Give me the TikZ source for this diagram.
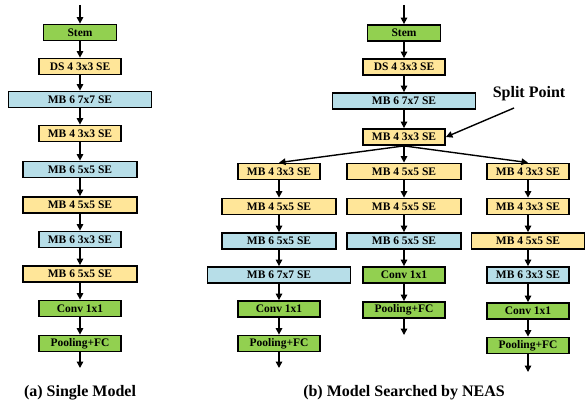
\documentclass[tikz,border=0pt]{standalone}
\usepackage{fontspec}
\setmainfont{Liberation Serif}
\usetikzlibrary{arrows.meta}

\definecolor{stemgreen}{HTML}{92D050}
\definecolor{mbyellow}{HTML}{FFE699}
\definecolor{mbblue}{HTML}{B7DEE8}

\begin{document}
\begin{tikzpicture}[x=1pt,y=-1pt,
  blk/.style={draw=black,line width=1.8pt,minimum height=16pt,inner sep=0pt,
    font=\fontsize{11.5}{12}\selectfont\bfseries},
  sm/.style={blk,minimum width=82pt},
  md/.style={blk,minimum width=114pt},
  lg/.style={blk,minimum width=143pt},
  grn/.style={fill=stemgreen},
  ylw/.style={fill=mbyellow},
  blu/.style={fill=mbblue},
  flow/.style={line width=1.4pt,-{Triangle[width=6.5pt,length=6.5pt]}},
  subcap/.style={font=\fontsize{16}{18}\selectfont\bfseries}]

\useasboundingbox (0,0) rectangle (585,404);

% (a) single model
\begin{scope}
\coordinate (a0) at (80,5);
\node[sm,grn,minimum width=73pt] (a1) at (80,32.5) {Stem};
\node[sm,ylw] (a2) at (80,66.5) {DS 4 3x3 SE};
\node[lg,blu] (a3) at (80,99.5) {MB 6 7x7 SE};
\node[sm,ylw] (a4) at (80,133.5) {MB 4 3x3 SE};
\node[md,blu] (a5) at (80,169.5) {MB 6 5x5 SE};
\node[md,ylw] (a6) at (80,205) {MB 4 5x5 SE};
\node[sm,blu] (a7) at (80,239.5) {MB 6 3x3 SE};
\node[md,ylw] (a8) at (80,274) {MB 6 5x5 SE};
\node[sm,grn] (a9) at (80,308.5) {Conv 1x1};
\node[sm,grn] (a10) at (80,343.5) {Pooling+FC};
\coordinate (a11) at (80,368);

\draw[flow] (a0) -- (a1);
\draw[flow] (a1) -- (a2);
\draw[flow] (a2) -- (a3);
\draw[flow] (a3) -- (a4);
\draw[flow] (a4) -- (a5);
\draw[flow] (a5) -- (a6);
\draw[flow] (a6) -- (a7);
\draw[flow] (a7) -- (a8);
\draw[flow] (a8) -- (a9);
\draw[flow] (a9) -- (a10);
\draw[flow] (a10) -- (a11);

\node[subcap] (capa) at (80,393) {(a) Single Model};
\end{scope}

% (b) shared trunk
\begin{scope}
\coordinate (b0) at (404,5);
\node[sm,grn,minimum width=73pt] (b1) at (404,33) {Stem};
\node[sm,ylw] (b2) at (404,67) {DS 4 3x3 SE};
\node[lg,blu] (b3) at (404,101) {MB 6 7x7 SE};
\node[sm,ylw] (b4) at (404,137) {MB 4 3x3 SE};

\draw[flow] (b0) -- (b1);
\draw[flow] (b1) -- (b2);
\draw[flow] (b2) -- (b3);
\draw[flow] (b3) -- (b4);

\node[font=\fontsize{16}{18}\selectfont\bfseries] (split) at (529,94) {Split Point};
\coordinate (splittail) at (514,108);
\draw[flow] (splittail) -- (b4.east);
\end{scope}

% left branch
\node[sm,ylw] (l1) at (279,171.5) {MB 4 3x3 SE};
\node[md,ylw] (l2) at (279,206.5) {MB 4 5x5 SE};
\node[md,blu] (l3) at (279,241) {MB 6 5x5 SE};
\node[lg,blu] (l4) at (279,275) {MB 6 7x7 SE};
\node[sm,grn] (l5) at (279,309) {Conv 1x1};
\node[sm,grn] (l6) at (279,343.5) {Pooling+FC};
\coordinate (l7) at (279,368);

% middle branch
\node[md,ylw] (m1) at (404,171.5) {MB 4 5x5 SE};
\node[md,ylw] (m2) at (404,206.5) {MB 4 5x5 SE};
\node[md,blu] (m3) at (404,241) {MB 6 5x5 SE};
\node[sm,grn] (m4) at (404,275) {Conv 1x1};
\node[sm,grn] (m5) at (404,310) {Pooling+FC};
\coordinate (m6) at (404,335);

% right branch
\node[sm,ylw] (r1) at (528,171.5) {MB 4 3x3 SE};
\node[sm,ylw] (r2) at (528,206.5) {MB 4 3x3 SE};
\node[md,ylw,minimum width=113pt] (r3) at (528,241) {MB 4 5x5 SE};
\node[sm,blu] (r4) at (528,275) {MB 6 3x3 SE};
\node[sm,grn] (r5) at (528,311) {Conv 1x1};
\node[sm,grn] (r6) at (528,345.5) {Pooling+FC};
\coordinate (r7) at (528,372);

\draw[flow] (b4.south) -- (l1.north);
\draw[flow] (b4.south) -- (m1.north);
\draw[flow] (b4.south) -- (r1.north);

\draw[flow] (l1) -- (l2);
\draw[flow] (l2) -- (l3);
\draw[flow] (l3) -- (l4);
\draw[flow] (l4) -- (l5);
\draw[flow] (l5) -- (l6);
\draw[flow] (l6) -- (l7);

\draw[flow] (m1) -- (m2);
\draw[flow] (m2) -- (m3);
\draw[flow] (m3) -- (m4);
\draw[flow] (m4) -- (m5);
\draw[flow] (m5) -- (m6);

\draw[flow] (r1) -- (r2);
\draw[flow] (r2) -- (r3);
\draw[flow] (r3) -- (r4);
\draw[flow] (r4) -- (r5);
\draw[flow] (r5) -- (r6);
\draw[flow] (r6) -- (r7);

\node[subcap] (capb) at (404,393) {(b) Model Searched by NEAS};

\end{tikzpicture}
\end{document}
